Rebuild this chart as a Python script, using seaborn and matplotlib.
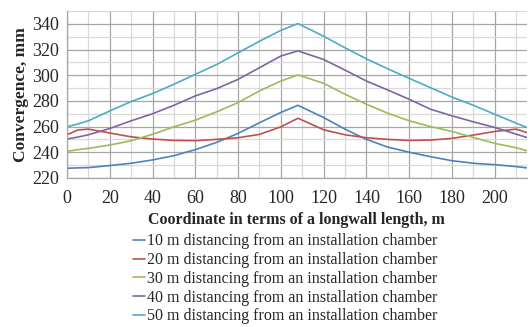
import pandas as pd
import seaborn as sns
import matplotlib.pyplot as plt
from matplotlib.ticker import MultipleLocator

# coordinate along the longwall, m
coord = [0, 5, 10, 20, 30, 40, 50, 60, 70, 80, 90, 100, 108,
         120, 130, 140, 150, 160, 170, 180, 190, 200, 210, 215]

# convergence, mm
conv_10 = [227.5, 227.8, 228, 229.6, 231.4, 234, 237.3, 242, 247.7, 254.7, 263, 271, 276.6,
           267, 258, 250, 244, 240, 236.5, 233.4, 231.4, 230.3, 228.8, 227.8]
conv_20 = [253.6, 257.3, 258, 255, 252, 250.3, 249.2, 249, 250, 251.3, 253.9, 259.8, 266.5,
           257.5, 253.6, 251.3, 250, 249.2, 249.5, 250.8, 253.4, 256.2, 258, 255.4]
conv_30 = [240.7, 242, 243, 245.6, 249, 254, 259.8, 265, 271.5, 278.7, 287.8, 295.5, 300.3,
           293.7, 285.2, 277.4, 270.4, 264.5, 260, 256.2, 251.5, 246.9, 243.5, 241.2]
conv_40 = [250.3, 251.8, 253.6, 258.5, 264.5, 270, 276.6, 283.9, 289.6, 296.8, 305.9, 315, 319,
           312.3, 304, 295.5, 288.5, 281.3, 273.5, 268.4, 263.7, 259.3, 254.1, 251.5]
conv_50 = [259.8, 262, 264.5, 272.2, 279.5, 285.7, 293, 300.7, 308.4, 317.5, 326.5, 335, 340.3,
           330.4, 321.4, 312.8, 305, 297.6, 290.3, 283, 276.6, 269.6, 262.7, 259.3]

series_names = ["10 m distancing from an installation chamber",
                "20 m distancing from an installation chamber",
                "30 m distancing from an installation chamber",
                "40 m distancing from an installation chamber",
                "50 m distancing from an installation chamber"]
colors = ["#4F81BD", "#C0504D", "#9BBB59", "#8064A2", "#4BACC6"]

frames = []
for name, vals in zip(series_names, [conv_10, conv_20, conv_30, conv_40, conv_50]):
    frames.append(pd.DataFrame({"x": coord, "y": vals, "series": name}))
df = pd.concat(frames, ignore_index=True)

sns.set_style("white")
plt.rcParams['font.family'] = ['Liberation Serif', 'DejaVu Serif']

fig = plt.figure(figsize=(5.3, 3.27), dpi=100)
ax = fig.add_axes([0.1264, 0.456, 0.994 - 0.1264, 0.966 - 0.456])

sns.lineplot(data=df, x="x", y="y", hue="series", palette=colors,
             hue_order=series_names, linewidth=1.2, ax=ax, legend=False)

ax.set_xlim(0, 215)
ax.set_ylim(220, 350)
ax.xaxis.set_major_locator(MultipleLocator(20))
ax.xaxis.set_minor_locator(MultipleLocator(10))
ax.yaxis.set_major_locator(MultipleLocator(20))
ax.yaxis.set_minor_locator(MultipleLocator(10))
ax.grid(which='major', color='#a6a6a6', linewidth=0.9)
ax.grid(which='minor', color='#d9d9d9', linewidth=0.9)
ax.set_axisbelow(True)

for s in ['top', 'right']:
    ax.spines[s].set_visible(False)
for s in ['left', 'bottom']:
    ax.spines[s].set_color('#a6a6a6')
    ax.spines[s].set_linewidth(0.9)

ax.tick_params(axis='both', which='major', direction='out', length=4, width=0.9,
               color='#a6a6a6', labelsize=13, pad=2)
ax.tick_params(axis='both', which='minor', length=0)
ax.tick_params(axis='x', pad=5)

ax.set_xlabel("Coordinate in terms of a longwall length, m", fontsize=11.5,
              fontweight='bold', labelpad=3)
ax.set_ylabel("Convergence, mm", fontsize=12.5, fontweight='bold', labelpad=2)

handles = [plt.Line2D([], [], color=c, linewidth=1.2) for c in colors]
fig.legend(handles, series_names, loc='upper left', bbox_to_anchor=(0.25, 0.286),
           frameon=False, fontsize=11.5, handlelength=0.8, handletextpad=0.1,
           labelspacing=0.17, borderpad=0, borderaxespad=0)

plt.savefig("out.png", dpi=100)
